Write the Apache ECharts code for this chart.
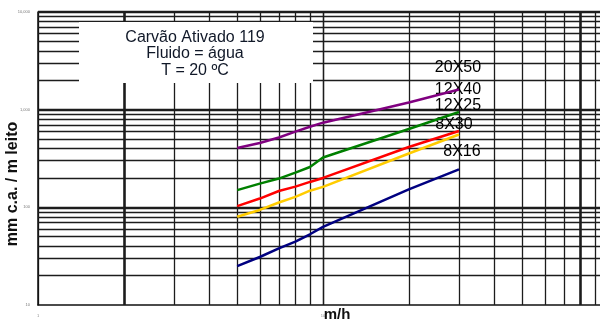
<!DOCTYPE html>
<html>
<head>
<meta charset="utf-8">
<script src="https://cdn.jsdelivr.net/npm/echarts@6/dist/echarts.min.js"></script>
<style>
  html, body { margin: 0; padding: 0; background: #fff; }
  #chart { width: 600px; height: 320px; }
</style>
</head>
<body>
<div id="chart"></div>
<script>
// Flow velocity (m/h) and head loss (mm c.a. / m leito) per carbon mesh size
const flowRates = [5, 6, 7, 8, 9, 10, 20, 30];
const mesh20x50 = [405, 456, 519, 595, 669, 736, 1184, 1609];
const mesh12x40 = [150, 175, 197, 227, 259, 324, 634, 946];
const mesh12x25 = [103, 123, 147, 163, 182, 200, 415, 605];
const mesh8x30 = [80, 94, 112, 128, 148, 162, 356, 557];
const mesh8x16 = [25, 31, 38, 44.5, 53, 63, 153, 245];
const seriesNames = ['20X50', '12X40', '12X25', '8X30', '8X16'];

// Log-paper grid values
const xGridValues = [2, 3, 4, 5, 6, 7, 8, 9, 10, 20, 30, 40, 50, 60, 70, 80, 90];
const yGridValues = [20, 30, 40, 50, 60, 70, 80, 90, 200, 300, 400, 500, 600, 700, 800, 900,
                     2000, 3000, 4000, 5000, 6000, 7000, 8000, 9000];
const yDecades = [100, 1000, 10000];
const xHeavy = [2, 80];

const allSeries = [mesh20x50, mesh12x40, mesh12x25, mesh8x30, mesh8x16];
const colors = ['#800080', '#008000', '#ff0000', '#ffcc00', '#000080'];
const labelOffsets = [[-1, -22], [-1, -22], [-1, -25], [-5, -10], [3, -18]];

const gridLineColor = '#1c1c1c';
const gridLines = [];
xGridValues.forEach(v => gridLines.push({
  xAxis: v,
  lineStyle: { color: gridLineColor, width: xHeavy.includes(v) ? 2.6 : 1.3, type: 'solid' }
}));
yGridValues.forEach(v => gridLines.push({
  yAxis: v,
  lineStyle: { color: gridLineColor, width: 1.3, type: 'solid' }
}));
yDecades.forEach(v => gridLines.push({
  yAxis: v,
  lineStyle: { color: gridLineColor, width: 2.4, type: 'solid' }
}));

const lineSeries = allSeries.map((vals, i) => {
  const last = vals.length - 1;
  return {
    name: seriesNames[i],
    type: 'line',
    z: 5,
    data: flowRates.map((x, k) => [x, vals[k]]),
    symbol: 'none',
    lineStyle: { color: colors[i], width: 2.5 },
    itemStyle: { color: colors[i] },
    animation: false,
    markPoint: {
      symbol: 'circle',
      symbolSize: 0,
      silent: true,
      animation: false,
      data: [{ coord: [flowRates[last], vals[last]] }],
      label: {
        show: true,
        position: 'inside',
        formatter: seriesNames[i],
        offset: labelOffsets[i],
        color: '#000',
        fontFamily: 'Liberation Sans, Arial, sans-serif',
        fontSize: 16
      }
    }
  };
});

const chart = echarts.init(document.getElementById('chart'), null, { renderer: 'canvas' });
chart.setOption({
  animation: false,
  backgroundColor: '#fff',
  // the 1–100 decade pair runs a little past the right edge of the page
  grid: {
    left: 38, width: 570, top: 12, height: 293,
    containLabel: false,
    outerBoundsMode: 'none'
  },
  xAxis: {
    type: 'log',
    logBase: 10,
    min: 1,
    max: 100,
    axisLine: { show: true, lineStyle: { color: '#111', width: 1.5 } },
    axisTick: { show: false },
    splitLine: { show: true, lineStyle: { color: gridLineColor, width: 1.3 } },
    axisLabel: { show: true, fontSize: 4, color: '#8a8a8a', margin: 9 }
  },
  yAxis: {
    type: 'log',
    logBase: 10,
    min: 10,
    max: 10000,
    axisLine: { show: true, lineStyle: { color: '#111', width: 1.5 } },
    axisTick: { show: false },
    splitLine: { show: false },
    axisLabel: { show: true, fontSize: 4, color: '#777', margin: 8 }
  },
  series: [
    {
      type: 'line',
      name: 'grade',
      z: 1,
      data: [],
      silent: true,
      animation: false,
      markLine: {
        silent: true,
        animation: false,
        symbol: ['none', 'none'],
        label: { show: false },
        data: gridLines
      }
    },
    ...lineSeries
  ],
  graphic: [
    {
      type: 'rect',
      z: 100,
      shape: { x: 79, y: 22, width: 234, height: 61 },
      style: { fill: '#fff' }
    },
    {
      type: 'text',
      z: 101,
      x: 195, y: 29,
      style: {
        text: 'Carvão Ativado 119\nFluido = água\nT = 20 ºC',
        fill: '#101828',
        font: '16px "Liberation Sans", Arial, sans-serif',
        align: 'center',
        verticalAlign: 'top',
        lineHeight: 16.5
      }
    },
    {
      type: 'text',
      z: 101,
      x: 337, y: 315,
      style: {
        text: 'm/h',
        fill: '#111',
        font: 'bold 15px "Liberation Sans", Arial, sans-serif',
        align: 'center',
        verticalAlign: 'middle'
      }
    },
    {
      type: 'text',
      z: 101,
      x: 13, y: 184,
      rotation: Math.PI / 2,
      style: {
        text: 'mm c.a. / m leito',
        fill: '#111',
        font: 'bold 16px "Liberation Sans", Arial, sans-serif',
        align: 'center',
        verticalAlign: 'middle'
      }
    }
  ]
});
</script>
</body>
</html>
